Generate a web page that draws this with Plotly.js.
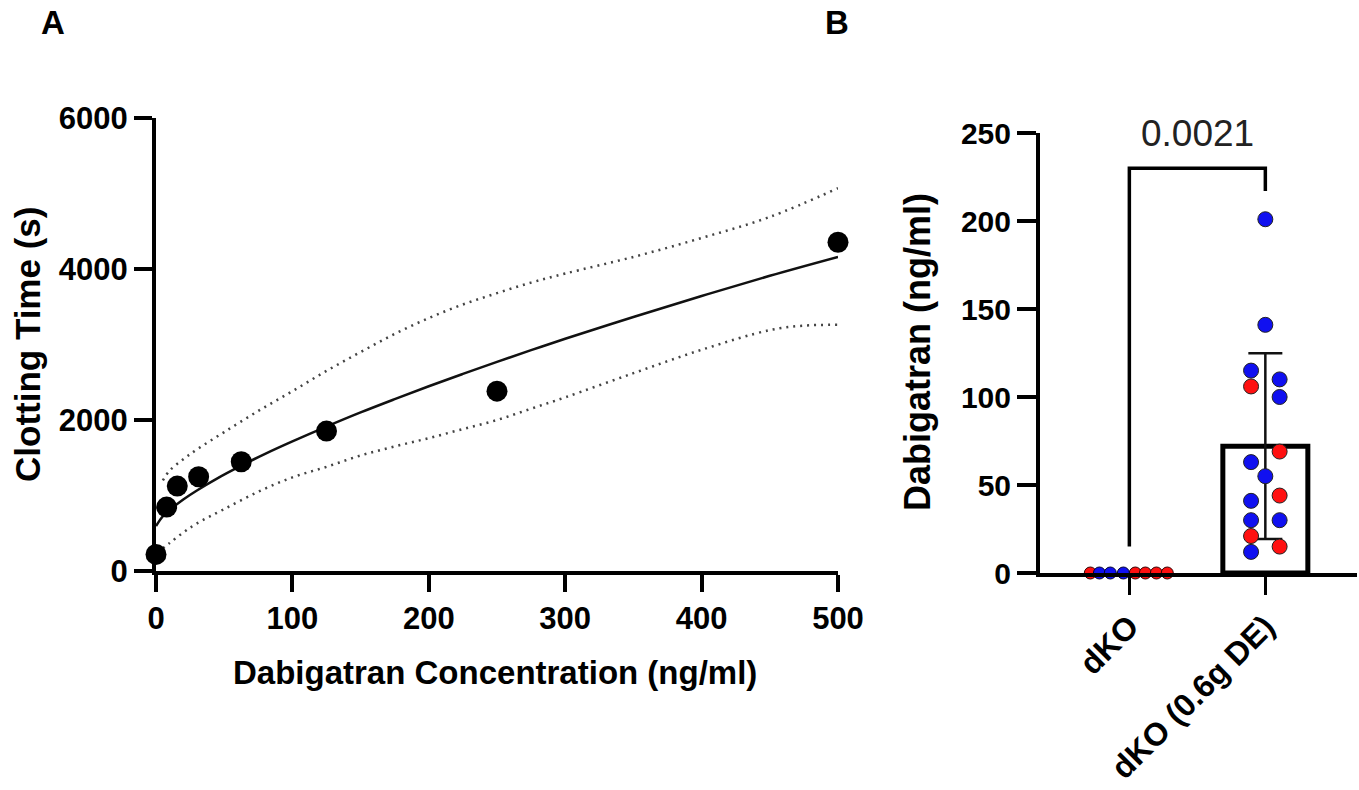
<!DOCTYPE html>
<html>
<head>
<meta charset="utf-8">
<script src="https://cdn.plot.ly/plotly-3.0.1.min.js"></script>
<style>
  html, body { margin: 0; padding: 0; background: #ffffff; }
  #chart { width: 1359px; height: 790px; }
</style>
</head>
<body>
<div id="chart"></div>
<script>
// ---------- Panel A data ----------
const concentration = [0, 7.8, 15.6, 31.25, 62.5, 125, 250, 500];
const clottingTime = [220, 847, 1125, 1248, 1447, 1853, 2382, 4354];

const fitX = [0, 5, 10, 20, 30, 45, 62.5, 80, 100, 125, 150, 175, 200, 225, 250, 275, 300, 350, 400, 450, 500];
const fitY = [595, 725, 809, 948, 1067, 1227, 1395, 1552, 1717, 1913, 2100, 2276, 2447, 2610, 2770, 2925, 3076, 3365, 3643, 3910, 4160];

const upperX = [5, 10, 20, 30, 50, 75, 100, 125, 150, 175, 200, 225, 250, 275, 300, 350, 400, 450, 500];
const upperY = [1200, 1330, 1480, 1610, 1840, 2120, 2382, 2650, 2900, 3140, 3350, 3530, 3680, 3820, 3940, 4160, 4411, 4690, 5070];

const lowerX = [5, 10, 20, 30, 50, 75, 100, 125, 150, 175, 200, 225, 250, 275, 300, 350, 400, 450, 475, 500];
const lowerY = [300, 370, 510, 630, 820, 1050, 1240, 1380, 1530, 1650, 1760, 1880, 2000, 2150, 2300, 2620, 2930, 3190, 3250, 3260];

// ---------- Panel B data ----------
const groups = ['dKO', 'dKO (0.6g DE)'];
const dkoBlue = [0, 0, 0];
const dkoRed = [0, 0, 0, 0, 0];
const deBlue = [201, 141, 115, 110, 100, 63, 55, 41, 30, 30, 12];
const deRed = [106, 69, 44, 21, 15];
const pValueText = '0.0021';

// horizontal spread of dots (layout only, in category units)
const dkoBlueOffset = [-0.22, -0.14, -0.044];
const dkoRedOffset = [-0.287, 0.044, 0.118, 0.199, 0.279];
const deBlueOffset = [0, 0, -0.105, 0.105, 0.105, -0.105, 0, -0.105, -0.105, 0.105, -0.105];
const deRedOffset = [-0.105, 0.105, 0.105, -0.105, 0.105];

const deAll = deBlue.concat(deRed);
const deMean = deAll.reduce((a, b) => a + b, 0) / deAll.length;
const deSD = Math.sqrt(deAll.reduce((a, b) => a + (b - deMean) * (b - deMean), 0) / (deAll.length - 1));

const FONT = 'Liberation Sans, Arial, Helvetica, sans-serif';
const W = 1359, H = 790;
const px = v => v / W;
const py = v => (H - v) / H;

const traces = [
  { x: upperX, y: upperY, mode: 'lines', line: { color: '#444', width: 2.5, dash: '2px,5px', shape: 'spline' }, xaxis: 'x', yaxis: 'y', hoverinfo: 'skip' },
  { x: lowerX, y: lowerY, mode: 'lines', line: { color: '#444', width: 2.5, dash: '2px,5px', shape: 'spline' }, xaxis: 'x', yaxis: 'y', hoverinfo: 'skip' },
  { x: fitX, y: fitY, mode: 'lines', line: { color: '#111', width: 2.5, shape: 'spline' }, xaxis: 'x', yaxis: 'y' },
  { x: concentration, y: clottingTime, mode: 'markers', marker: { color: '#000', size: 21 }, cliponaxis: false, xaxis: 'x', yaxis: 'y' },

  { type: 'bar', x: [1], y: [deMean], width: 0.625, xaxis: 'x2', yaxis: 'y2',
    marker: { color: '#ffffff', line: { color: '#000', width: 5 } },
    error_y: { type: 'data', array: [deSD], visible: true, color: '#111', thickness: 2.5, width: 17 } },

  { x: dkoRed.map((v, i) => 0 + dkoRedOffset[i]), y: dkoRed, mode: 'markers', cliponaxis: false,
    marker: { color: '#ff1010', size: 12, line: { color: '#300', width: 1 } }, xaxis: 'x2', yaxis: 'y2' },
  { x: dkoBlue.map((v, i) => 0 + dkoBlueOffset[i]), y: dkoBlue, mode: 'markers', cliponaxis: false,
    marker: { color: '#1010f0', size: 12, line: { color: '#003', width: 1 } }, xaxis: 'x2', yaxis: 'y2' },
  { x: deBlue.map((v, i) => 1 + deBlueOffset[i]), y: deBlue, mode: 'markers', cliponaxis: false,
    marker: { color: '#1010f0', size: 15, line: { color: '#222', width: 1 } }, xaxis: 'x2', yaxis: 'y2' },
  { x: deRed.map((v, i) => 1 + deRedOffset[i]), y: deRed, mode: 'markers', cliponaxis: false,
    marker: { color: '#ff1010', size: 15, line: { color: '#222', width: 1 } }, xaxis: 'x2', yaxis: 'y2' }
];

const tickA = { family: FONT, size: 31, color: '#000', weight: 'bold' };
const tickBy = { family: FONT, size: 30, color: '#000', weight: 'bold' };
const tickBx = { family: FONT, size: 32, color: '#000', weight: 'bold' };

const layout = {
  width: W, height: H,
  margin: { l: 0, r: 0, t: 0, b: 0 },
  paper_bgcolor: '#fff', plot_bgcolor: 'rgba(0,0,0,0)',
  showlegend: false,
  xaxis: {
    domain: [px(156), px(838)], range: [0, 500], anchor: 'y',
    tickmode: 'array', tickvals: [0, 100, 200, 300, 400, 500],
    ticks: 'outside', ticklen: 17, tickwidth: 4, tickcolor: '#000',
    showline: true, linewidth: 4, linecolor: '#000',
    showgrid: false, zeroline: false, tickfont: tickA, fixedrange: true
  },
  yaxis: {
    domain: [py(571), py(118)], range: [0, 6000], anchor: 'x',
    tickmode: 'array', tickvals: [0, 2000, 4000, 6000],
    ticks: 'outside', ticklen: 18, tickwidth: 4, tickcolor: '#000',
    showline: true, linewidth: 4, linecolor: '#000',
    showgrid: false, zeroline: false, tickfont: tickA, fixedrange: true
  },
  xaxis2: {
    domain: [px(1040), px(1357)], range: [-0.657, 1.674], anchor: 'y2',
    tickmode: 'array', tickvals: [0, 1], ticktext: groups, tickangle: -45,
    ticks: 'outside', ticklen: 18, tickwidth: 3.5, tickcolor: '#000',
    showline: true, linewidth: 4, linecolor: '#000',
    showgrid: false, zeroline: false, tickfont: tickBx, fixedrange: true
  },
  yaxis2: {
    domain: [py(573), py(133)], range: [0, 250], anchor: 'x2',
    tickmode: 'array', tickvals: [0, 50, 100, 150, 200, 250],
    ticks: 'outside', ticklen: 19, tickwidth: 3.5, tickcolor: '#000',
    showline: true, linewidth: 4, linecolor: '#000',
    showgrid: false, zeroline: false, tickfont: tickBy, fixedrange: true
  },
  shapes: [
    { type: 'path', xref: 'x2', yref: 'y2', path: 'M 0,15 L 0,230 L 1,230 L 1,217',
      line: { color: '#000', width: 3.5 } }
  ],
  annotations: [
    { text: 'A', xref: 'paper', yref: 'paper', x: px(53), y: py(22), showarrow: false,
      xanchor: 'center', yanchor: 'middle', font: { family: FONT, size: 33, color: '#000', weight: 'bold' } },
    { text: 'B', xref: 'paper', yref: 'paper', x: px(837), y: py(22), showarrow: false,
      xanchor: 'center', yanchor: 'middle', font: { family: FONT, size: 33, color: '#000', weight: 'bold' } },
    { text: 'Dabigatran Concentration (ng/ml)', xref: 'paper', yref: 'paper', x: px(495), y: py(672), showarrow: false,
      xanchor: 'center', yanchor: 'middle', font: { family: FONT, size: 33, color: '#000', weight: 'bold' } },
    { text: 'Clotting Time (s)', xref: 'paper', yref: 'paper', x: px(27), y: py(345), showarrow: false, textangle: -90,
      xanchor: 'center', yanchor: 'middle', font: { family: FONT, size: 35, color: '#000', weight: 'bold' } },
    { text: 'Dabigatran (ng/ml)', xref: 'paper', yref: 'paper', x: px(917), y: py(352), showarrow: false, textangle: -90,
      xanchor: 'center', yanchor: 'middle', font: { family: FONT, size: 36, color: '#000', weight: 'bold' } },
    { text: pValueText, xref: 'x2', yref: 'y2', x: 0.5, y: 250, showarrow: false,
      xanchor: 'center', yanchor: 'middle', font: { family: FONT, size: 37, color: '#222' } }
  ]
};

Plotly.newPlot('chart', traces, layout, { displayModeBar: false, staticPlot: true });
</script>
</body>
</html>
